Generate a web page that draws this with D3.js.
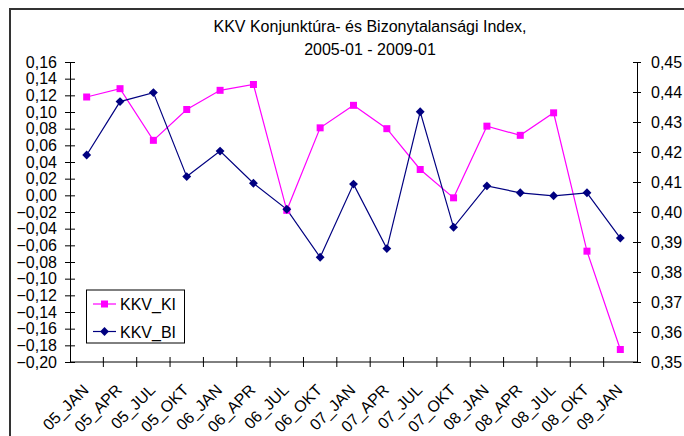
<!DOCTYPE html>
<html>
<head>
<meta charset="utf-8">
<script src="https://cdn.jsdelivr.net/npm/d3@7"></script>
<style>
    body { margin: 0; background: #fff; }
    svg text { font-family: "Liberation Sans", Arial, sans-serif; fill: #000; }
</style>
</head>
<body>
<svg id="chart" width="684" height="436"></svg>
<script>
// quarters on the x axis
const categories = ["05_JAN", "05_APR", "05_JUL", "05_OKT", "06_JAN", "06_APR", "06_JUL", "06_OKT",
    "07_JAN", "07_APR", "07_JUL", "07_OKT", "08_JAN", "08_APR", "08_JUL", "08_OKT", "09_JAN"];

// KKV_KI, left axis
const kiValues = [0.118, 0.128, 0.066, 0.103, 0.126, 0.133, -0.018, 0.081,
    0.108, 0.080, 0.031, -0.003, 0.083, 0.072, 0.099, -0.067, -0.185];

// KKV_BI, right axis
const biValues = [0.419, 0.4368, 0.4398, 0.4118, 0.4203, 0.4096, 0.4009, 0.3849,
    0.4093, 0.3878, 0.4334, 0.3949, 0.4087, 0.4064, 0.4054, 0.4064, 0.3913];

const leftTicks = d3.range(-0.20, 0.161, 0.02);
const rightTicks = d3.range(0.35, 0.4501, 0.01);

const svg = d3.select('#chart');
const fmt = d => d3.format(".2f")(Math.abs(d) < 1e-9 ? 0 : d).replace(".", ",");

// outer frame
svg.append("rect")
    .attr("x", 10).attr("y", 9)
    .attr("width", 700).attr("height", 460)
    .attr("fill", "none")
    .attr("stroke", "#333")
    .attr("stroke-width", 2);

const plot = { left: 70, right: 637, top: 62, bottom: 362 };

const x = d3.scaleBand()
    .domain(categories)
    .range([plot.left, plot.right]);

const yLeft = d3.scaleLinear().domain([-0.20, 0.16]).range([plot.bottom, plot.top]);
const yRight = d3.scaleLinear().domain([0.35, 0.45]).range([plot.bottom, plot.top]);

// title
const title = svg.append("text")
    .attr("text-anchor", "middle")
    .style("font-size", "16px");
title.append("tspan").attr("x", 370).attr("y", 32).text("KKV Konjunktúra- és Bizonytalansági Index,");
title.append("tspan").attr("x", 370).attr("y", 55).text("2005-01 - 2009-01");

// left axis
const leftAxis = svg.append("g")
    .attr("transform", `translate(${plot.left},0)`)
    .call(d3.axisLeft(yLeft).tickValues(leftTicks).tickFormat(fmt).tickSizeInner(5).tickSizeOuter(0).tickPadding(8));
leftAxis.selectAll(".tick line").attr("x2", 5).attr("x1", -5);

// right axis
const rightAxis = svg.append("g")
    .attr("transform", `translate(${plot.right},0)`)
    .call(d3.axisRight(yRight).tickValues(rightTicks).tickFormat(fmt).tickSizeInner(4).tickSizeOuter(0).tickPadding(10));
rightAxis.selectAll(".tick line").attr("x1", -4).attr("x2", 4);

// bottom axis, ticks on category boundaries
const xAxis = svg.append("g")
    .attr("transform", `translate(0,${plot.bottom})`);
xAxis.append("line")
    .attr("x1", plot.left).attr("x2", plot.right)
    .attr("stroke", "#000");
const bounds = categories.map(c => x(c)).concat([plot.right]);
xAxis.selectAll(".bt")
    .data(bounds.slice(1, -1))
    .enter().append("line")
    .attr("x1", d => d).attr("x2", d => d)
    .attr("y1", -5).attr("y2", 5)
    .attr("stroke", "#000");
xAxis.selectAll(".lbl")
    .data(categories)
    .enter().append("text")
    .attr("text-anchor", "end")
    .style("font-size", "16px")
    .attr("transform", d => `translate(${x(d) + x.bandwidth() / 2 + 3},${29}) rotate(-45)`)
    .text(d => d);

svg.selectAll(".domain").attr("stroke", "#000");
svg.selectAll(".tick line").attr("stroke", "#000");
svg.selectAll(".tick text").style("font-size", "16px").attr("fill", "#000");

const cx = d => x(d) + x.bandwidth() / 2;

// KKV_KI line
const kiLine = d3.line().x((d, i) => cx(categories[i])).y(d => yLeft(d));
svg.append("path")
    .datum(kiValues)
    .attr("d", kiLine)
    .attr("fill", "none")
    .attr("stroke", "#ff00ff")
    .attr("stroke-width", 1.2);

// KKV_BI line
const biLine = d3.line().x((d, i) => cx(categories[i])).y(d => yRight(d));
svg.append("path")
    .datum(biValues)
    .attr("d", biLine)
    .attr("fill", "none")
    .attr("stroke", "#000080")
    .attr("stroke-width", 1.2);

const square = d3.symbol().type(d3.symbolSquare).size(49);
const diamond = d3.symbol().type(d3.symbolDiamond2).size(50);

svg.append("g").selectAll("path")
    .data(kiValues)
    .enter().append("path")
    .attr("d", square())
    .attr("transform", (d, i) => `translate(${cx(categories[i])},${yLeft(d)})`)
    .attr("fill", "#ff00ff");

svg.append("g").selectAll("path")
    .data(biValues)
    .enter().append("path")
    .attr("d", diamond())
    .attr("transform", (d, i) => `translate(${cx(categories[i])},${yRight(d)})`)
    .attr("fill", "#000080");

// legend
const legend = svg.append("g");
legend.append("rect")
    .attr("x", 86.5).attr("y", 290)
    .attr("width", 98).attr("height", 53)
    .attr("fill", "#fff")
    .attr("stroke", "#000");
const legendItems = [
    { name: "KKV_KI", color: "#ff00ff", sym: square },
    { name: "KKV_BI", color: "#000080", sym: diamond }
];
legendItems.forEach((item, i) => {
    const ly = 304 + i * 27.5;
    legend.append("line")
        .attr("x1", 93).attr("x2", 116)
        .attr("y1", ly).attr("y2", ly)
        .attr("stroke", item.color)
        .attr("stroke-width", 1.2);
    legend.append("path")
        .attr("d", item.sym())
        .attr("transform", `translate(104.5,${ly})`)
        .attr("fill", item.color);
    legend.append("text")
        .attr("x", 120).attr("y", ly + 6)
        .style("font-size", "16px")
        .text(item.name);
});
</script>
</body>
</html>
